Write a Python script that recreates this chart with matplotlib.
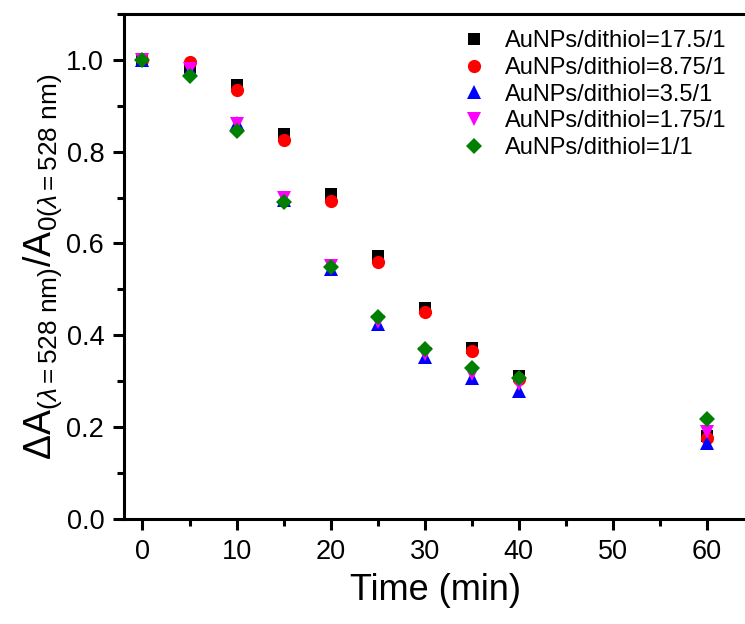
import matplotlib
matplotlib.use("Agg")
import matplotlib.pyplot as plt
from matplotlib.ticker import MultipleLocator

plt.rcParams['font.family'] = ['Liberation Sans', 'DejaVu Sans']
plt.rcParams['mathtext.fontset'] = 'custom'
plt.rcParams['mathtext.rm'] = 'Liberation Sans'
plt.rcParams['mathtext.it'] = 'Liberation Sans:italic'
plt.rcParams['mathtext.bf'] = 'Liberation Sans:bold'

time = [0, 5, 10, 15, 20, 25, 30, 35, 40, 60]
r17_5 = [1.0, 0.985, 0.945, 0.838, 0.707, 0.573, 0.460, 0.373, 0.312, 0.180]
r8_75 = [1.0, 0.995, 0.935, 0.825, 0.692, 0.560, 0.450, 0.365, 0.305, 0.176]
r3_5 = [1.0, 0.980, 0.862, 0.695, 0.545, 0.425, 0.352, 0.307, 0.280, 0.165]
r1_75 = [1.0, 0.980, 0.860, 0.700, 0.550, 0.430, 0.360, 0.315, 0.295, 0.190]
r1 = [1.0, 0.965, 0.845, 0.690, 0.548, 0.440, 0.370, 0.330, 0.308, 0.218]

labels = ['AuNPs/dithiol=17.5/1', 'AuNPs/dithiol=8.75/1', 'AuNPs/dithiol=3.5/1',
          'AuNPs/dithiol=1.75/1', 'AuNPs/dithiol=1/1']
series = [r17_5, r8_75, r3_5, r1_75, r1]
markers = ['s', 'o', '^', 'v', 'D']
colors = ['black', 'red', 'blue', 'magenta', 'green']
sizes = [9, 9.5, 10, 10, 8.5]

fig = plt.figure(figsize=(7.45, 6.24), dpi=100)
ax = fig.add_axes([0.166, 0.168, 0.837, 0.810])

for y, m, c, s, lab in zip(series, markers, colors, sizes, labels):
    ax.plot(time, y, linestyle='none', marker=m, color=c, markersize=s,
            markeredgewidth=0, label=lab)

ax.set_xlim(-2, 64.3)
ax.set_ylim(0, 1.1)
ax.xaxis.set_major_locator(MultipleLocator(10))
ax.xaxis.set_minor_locator(MultipleLocator(5))
ax.yaxis.set_major_locator(MultipleLocator(0.2))
ax.yaxis.set_minor_locator(MultipleLocator(0.1))
ax.yaxis.set_major_formatter(matplotlib.ticker.FormatStrFormatter('%.1f'))

for sp in ax.spines.values():
    sp.set_linewidth(2.2)
ax.tick_params(which='major', direction='out', length=8, width=2.2,
               labelsize=19.5, pad=6)
ax.tick_params(which='minor', direction='out', length=5, width=2.2)

ax.set_xlabel('Time (min)', fontsize=26, labelpad=6)
ax.set_ylabel(r'$\Delta$A$_{(\lambda=528\ \mathrm{nm})}$/A$_{0(\lambda=528\ \mathrm{nm})}$',
              fontsize=27, labelpad=2)

leg = ax.legend(loc='upper right', frameon=False, fontsize=17, handletextpad=0.8,
                labelspacing=0.2, borderaxespad=0.0, bbox_to_anchor=(0.982, 0.986),
                handlelength=1.0)

fig.savefig('out.png', dpi=100)
